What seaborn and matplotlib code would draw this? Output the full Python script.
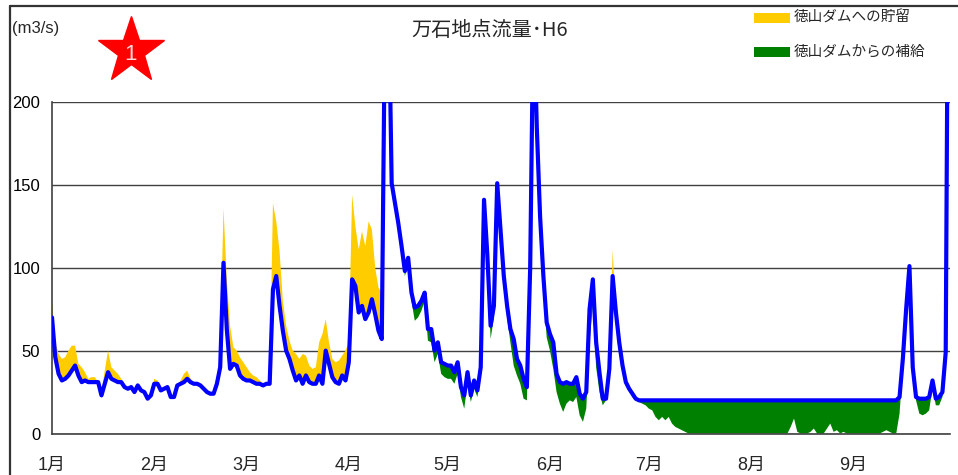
import numpy as np
import pandas as pd
import matplotlib
matplotlib.use("Agg")
import matplotlib.pyplot as plt
import seaborn as sns
from matplotlib import font_manager as fm
from matplotlib.patches import Rectangle
from matplotlib.lines import Line2D

# ---------------- data ----------------
title_text = "万石地点流量･H6"
unit_text = "(m3/s)"
star_label = "1"
legend_labels = ["徳山ダムへの貯留", "徳山ダムからの補給"]
month_labels = ["1月", "2月", "3月", "4月", "5月", "6月", "7月", "8月", "9月"]
month_start_days = [0, 31, 59, 90, 120, 151, 181, 212, 243]
y_ticks = [0, 50, 100, 150, 200]

# observed daily flow at Mangoku (blue line), Jan 1 .. Sep 30
actual_jan = [70, 46, 36, 32, 33, 35, 38, 41, 35, 31, 32, 31, 31, 31, 31, 23, 30, 37, 33, 32,
              31, 31, 28, 27, 28, 25, 29, 26, 25, 21, 23]
actual_feb = [30, 30, 26, 27, 28, 22, 22, 29, 30, 31, 33, 31, 30, 30, 29, 27, 25, 24, 24, 30,
              40, 103, 63, 39, 42, 41, 35, 33]
actual_mar = [32, 32, 31, 30, 30, 29, 30, 30, 87, 95, 77, 62, 50, 45, 38, 32, 35, 30, 35, 31,
              30, 30, 35, 30, 50, 42, 34, 31, 30, 35, 32]
actual_apr = [43, 93, 89, 73, 77, 69, 73, 81, 72, 62, 57, 262, 275, 151, 139, 127, 113, 98, 106, 85,
              76, 77, 80, 85, 63, 63, 50, 55, 43, 42]
actual_may = [41, 41, 37, 43, 28, 23, 37, 23, 32, 26, 40, 141, 108, 65, 77, 151, 123, 95, 77, 63,
              57, 45, 41, 33, 28, 100, 260, 185, 131, 95, 67]
actual_jun = [60, 55, 36, 31, 30, 31, 30, 30, 34, 24, 21, 25, 75, 93, 55, 37, 21, 21, 39, 95,
              73, 55, 41, 31, 27, 24, 21, 20, 20, 20]
actual_jul = [20] * 31
actual_aug = [20] * 31
actual_sep = [20, 20, 20, 20, 20, 20, 20, 20, 20, 20, 20, 20, 20, 20, 22, 45, 75, 101, 40, 22,
              21, 21, 21, 22, 32, 21, 22, 25, 49, 400]

# flow without dam operation (upper edge of yellow / lower edge of green)
natural_jan = [80, 55, 48, 45, 46, 50, 53, 53, 42, 40, 37, 33, 34, 34, 31, 25, 38, 50, 40, 38,
               36, 33, 28, 27, 28, 25, 29, 26, 25, 21, 23]
natural_feb = [33, 32, 26, 27, 28, 22, 22, 29, 32, 36, 38, 33, 31, 30, 29, 27, 25, 24, 24, 30,
               50, 136, 93, 65, 52, 50, 46, 43]
natural_mar = [40, 37, 35, 34, 32, 30, 30, 31, 139, 128, 110, 80, 65, 56, 50, 48, 45, 48, 47, 41,
               39, 40, 55, 60, 69, 55, 45, 43, 44, 47, 50]
natural_apr = [55, 144, 125, 111, 122, 113, 128, 123, 100, 88, 85, 262, 275, 148, 136, 124, 110, 95, 102, 80,
               68, 70, 74, 80, 56, 55, 43, 48, 36, 34]
natural_may = [33, 33, 30, 36, 22, 15, 30, 19, 27, 22, 36, 135, 104, 57, 70, 146, 116, 88, 70, 55,
               41, 35, 30, 21, 20, 95, 255, 180, 125, 88, 58]
natural_jun = [50, 39, 25, 18, 13, 18, 20, 19, 22, 11, 7, 15, 55, 77, 40, 25, 17, 20, 36, 111,
               73, 55, 41, 31, 26, 22, 20, 19, 18, 17]
natural_jul = [15, 14, 10, 8, 10, 8, 10, 6, 4, 3, 2, 1, 0, 0, 0, 0, 0, 0, 0, 0,
               0, 0, 0, 0, 0, 0, 0, 0, 0, 0, 0]
natural_aug = [0, 0, 0, 0, 0, 0, 0, 0, 0, 0, 0, 0, 4, 9, 1, 0, 0, 0, 1, 3,
               0, 0, 0, 3, 6, 1, 2, 0, 1, 0, 0]
natural_sep = [0, 0, 0, 0, 0, 0, 0, 0, 0, 1, 2, 1, 0, 0, 12, 40, 75, 101, 38, 20,
               12, 11, 12, 14, 28, 17, 17, 22, 49, 400]

actual_flow = np.array(actual_jan + actual_feb + actual_mar + actual_apr + actual_may +
                       actual_jun + actual_jul + actual_aug + actual_sep, dtype=float)
natural_flow = np.array(natural_jan + natural_feb + natural_mar + natural_apr + natural_may +
                        natural_jun + natural_jul + natural_aug + natural_sep, dtype=float)
days = np.arange(len(actual_flow))
df = pd.DataFrame({"day": days, "flow": actual_flow, "natural": natural_flow})

# ---------------- style ----------------
sns.set_style("white")


def pick(*names):
    for n in names:
        try:
            fm.findfont(fm.FontProperties(family=n), fallback_to_default=False)
            return n
        except Exception:
            pass
    return "DejaVu Sans"


latin = pick("Liberation Sans Narrow", "Liberation Sans", "Arial")
narrow = "Narrow" in latin
cjk = "Noto Sans CJK JP"
plt.rcParams["font.family"] = [latin, cjk, "DejaVu Sans"]

num_size = 14 if narrow else 12
BLUE = "#0000ff"
YELLOW = "#ffcc00"
GREEN = "#008000"
DARK = "#404040"

W, H = 958, 475
fig = plt.figure(figsize=(W / 100, H / 100), dpi=100)
ax = fig.add_axes([52 / W, (H - 433.5) / H, 898 / W, 331.5 / H])

ax.fill_between(df["day"], df["flow"], df["natural"], where=df["natural"] >= df["flow"],
                interpolate=True, color=YELLOW, lw=0, zorder=2)
ax.fill_between(df["day"], df["flow"], df["natural"], where=df["natural"] <= df["flow"],
                interpolate=True, color=GREEN, lw=0, zorder=2)
sns.lineplot(data=df, x="day", y="flow", color=BLUE, linewidth=3, ax=ax, zorder=3)

ax.set_xlim(0, 272.3)
ax.set_ylim(0, 200)
ax.set_xlabel("")
ax.set_ylabel("")
ax.set_yticks(y_ticks)
ax.set_yticklabels([str(v) for v in y_ticks], fontsize=num_size)
ax.set_xticks(month_start_days)
ax.set_xticklabels(month_labels, fontsize=13)
ax.tick_params(axis="y", length=0, pad=8.5, colors="black")
ax.tick_params(axis="x", direction="in", length=4, width=1, color=DARK, pad=17)
ax.yaxis.grid(True, color=DARK, linewidth=1)
ax.xaxis.grid(False)
ax.set_axisbelow(True)
for s in ["top", "right"]:
    ax.spines[s].set_visible(False)
for s in ["left", "bottom"]:
    ax.spines[s].set_color(DARK)
    ax.spines[s].set_linewidth(1.2)

# ---------------- figure decorations ----------------
fig.add_artist(Line2D([10 / W, 1.0], [1 - 5.5 / H, 1 - 5.5 / H], color="#333333", lw=1.6,
                      transform=fig.transFigure))
fig.add_artist(Line2D([9.5 / W, 9.5 / W], [0, 1 - 5.5 / H], color="#333333", lw=1.6,
                      transform=fig.transFigure))

fig.text(12 / W, 1 - 28 / H, unit_text, ha="left", va="center", fontsize=num_size)

fig.add_artist(Line2D([131 / W], [1 - 51 / H], marker="*", markersize=50, color="#ff0000",
                      markeredgecolor="#ff0000", linestyle="none", transform=fig.transFigure))
fig.text(131 / W, 1 - 54 / H, star_label, ha="center", va="center", fontsize=16,
         color="#ffd8d8")

fig.text(490 / W, 1 - 31 / H, title_text, ha="center", va="center", fontsize=14.5,
         family=[cjk, "DejaVu Sans"])

fig.add_artist(Rectangle((754 / W, 1 - 22.7 / H), 36 / W, 10 / H, color=YELLOW,
                         transform=fig.transFigure, lw=0))
fig.add_artist(Rectangle((754 / W, 1 - 57 / H), 36 / W, 10 / H, color=GREEN,
                         transform=fig.transFigure, lw=0))
fig.text(794 / W, 1 - 17.5 / H, legend_labels[0], ha="left", va="center", fontsize=10.5,
         family=[cjk, "DejaVu Sans"])
fig.text(794 / W, 1 - 52 / H, legend_labels[1], ha="left", va="center", fontsize=10.5,
         family=[cjk, "DejaVu Sans"])

fig.savefig("out.png", dpi=100)
